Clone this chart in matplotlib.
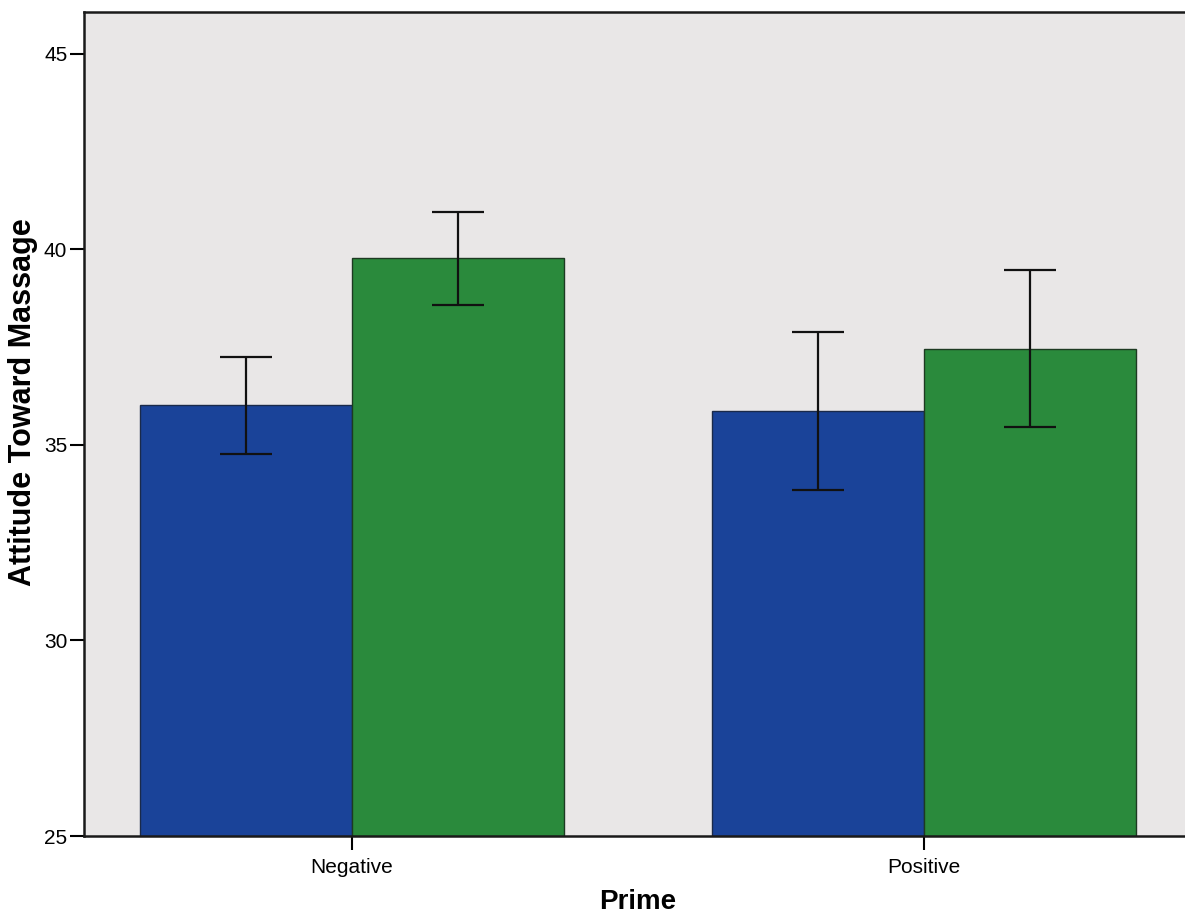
import numpy as np
import matplotlib.pyplot as plt

plt.rcParams['font.family'] = ['Liberation Sans', 'DejaVu Sans']

# data
primes = ['Negative', 'Positive']
blue_means = [36.02, 35.87]
blue_lo = [34.77, 33.85]
blue_hi = [37.25, 37.89]
green_means = [39.78, 37.46]
green_lo = [38.58, 35.46]
green_hi = [40.96, 39.48]

x = np.arange(len(primes))
w = 0.37

fig = plt.figure(figsize=(11.85, 9.16), dpi=100)
ax = fig.add_axes([0.0709, 0.0873, 0.9291, 0.8996])
ax.set_facecolor('#e9e7e7')

def err(means, lo, hi):
    m = np.array(means)
    return [m - np.array(lo), np.array(hi) - m]

ax.bar(x - w / 2, blue_means, width=w, color='#1a4399', edgecolor='#1a2a4a',
       linewidth=1)
ax.bar(x + w / 2, green_means, width=w, color='#2a8a3c', edgecolor='#1d3a22',
       linewidth=1)
ax.errorbar(x - w / 2, blue_means, yerr=err(blue_means, blue_lo, blue_hi),
            fmt='none', ecolor='#111111', elinewidth=1.6, capsize=19, capthick=1.6)
ax.errorbar(x + w / 2, green_means, yerr=err(green_means, green_lo, green_hi),
            fmt='none', ecolor='#111111', elinewidth=1.6, capsize=19, capthick=1.6)

ax.set_ylim(25, 46.07)
ax.set_xlim(-0.4685, 1.456)
ax.set_yticks([25, 30, 35, 40, 45])
ax.set_xticks(x)
ax.set_xticklabels(primes)
ax.tick_params(axis='y', length=10, width=1.5, labelsize=15, pad=2)
ax.tick_params(axis='x', length=10, width=1.5, labelsize=15, pad=6)

for s in ['left', 'bottom', 'top']:
    ax.spines[s].set_linewidth(1.8)
    ax.spines[s].set_color('#1a1a1a')
ax.spines['right'].set_visible(False)

ax.set_xlabel('Prime', fontsize=20, fontweight='bold', va='center')
ax.xaxis.set_label_coords(0.503, -0.080)
ax.set_ylabel('Attitude Toward Massage', fontsize=22, fontweight='bold', va='center')
ax.yaxis.set_label_coords(-0.0554, 0.527)

fig.savefig('out.png', dpi=100)
